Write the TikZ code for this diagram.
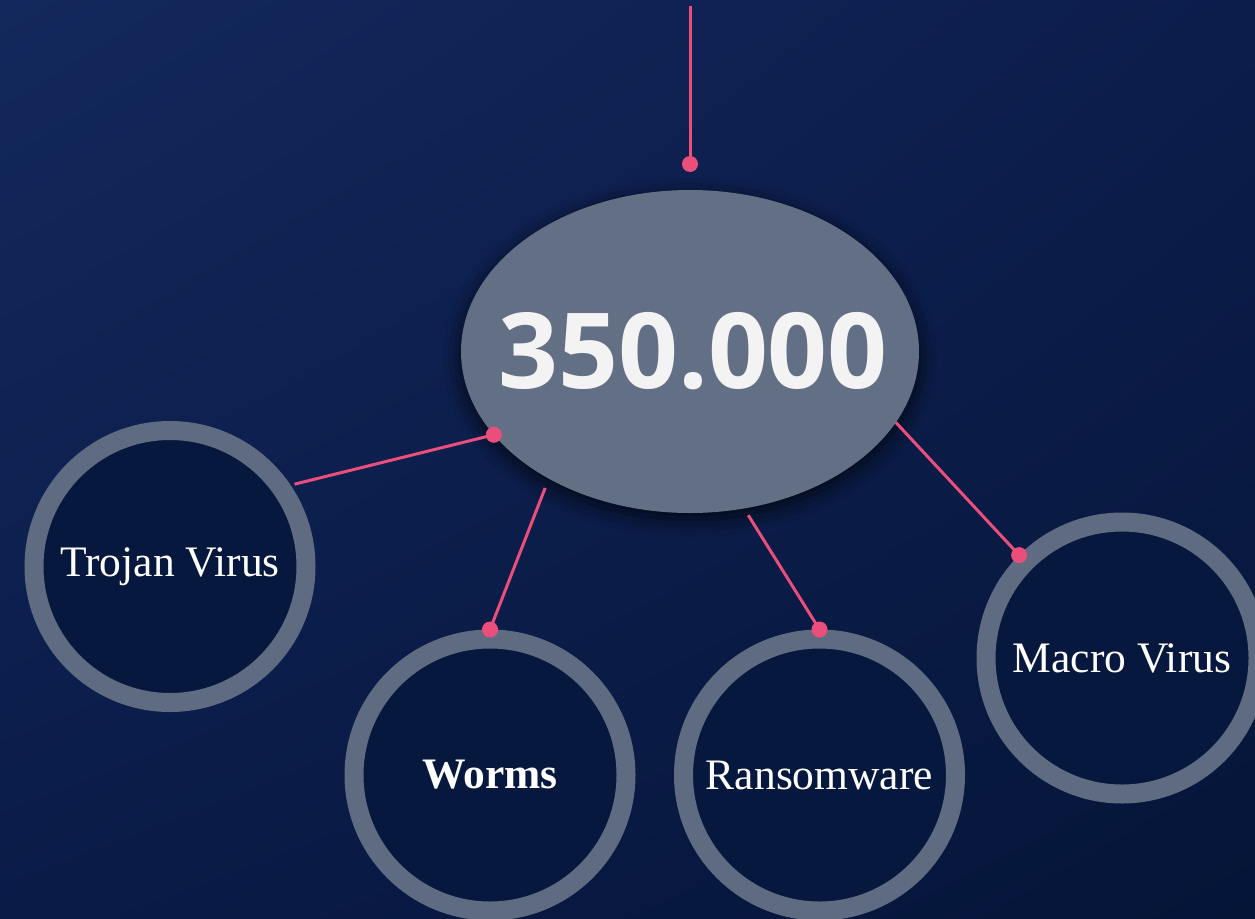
\documentclass[tikz,border=0pt]{standalone}
\usepackage{fontspec}
\setmainfont{Liberation Serif}
\newfontfamily\numfont{Open Sans}
\usepackage{tikz}
\usetikzlibrary{positioning, shapes.geometric, shadows.blur, shadings}
\definecolor{bgul}{HTML}{13285C}
\definecolor{bgur}{HTML}{0C1D4C}
\definecolor{bgll}{HTML}{0A1B48}
\definecolor{bglr}{HTML}{051538}
\definecolor{hot}{HTML}{EA4E7A}
\definecolor{ringgray}{HTML}{5F6B81}
\definecolor{coregray}{HTML}{636F84}
\definecolor{deepnavy}{HTML}{06183E}
\definecolor{paper}{HTML}{F3F3F3}
\tikzset{
  wire/.style={draw=hot, line width=3pt},
  hub/.style={ellipse, fill=coregray, minimum width=458pt, minimum height=323pt, inner sep=0pt, outer sep=0pt,
    blur shadow={shadow xshift=0pt, shadow yshift=-6pt, shadow blur radius=18pt, shadow opacity=75}},
  ring/.style={circle, draw=ringgray, line width=19pt, fill=deepnavy, minimum size=272pt, inner sep=0pt,
    on grid, text=white, font=\fontsize{43.5}{48}\selectfont}
}

\begin{document}
\begin{tikzpicture}[x=1pt, y=-1pt]
  \shade [upper left=bgul, upper right=bgur, lower left=bgll, lower right=bglr] (0,0) rectangle (1255,918);
  \useasboundingbox (0,0) rectangle (1255,918);
  \node [hub] (c) at (690,351.5) {};
  \node [text=paper, font=\numfont\bfseries\fontsize{105}{110}\selectfont, xshift=3pt] (num) at (c) {350.000};
  \node [ring, below left = 215pt and 520pt of c] (trojan) {Trojan Virus};
  \node [ring, below left = 423.5pt and 200pt of c] (worms) {\bfseries Worms};
  \node [ring, below right = 423.5pt and 129.5pt of c] (ransom) {Ransomware};
  \node [ring, below right = 306.5pt and 432pt of c] (macro) {Macro Virus};
  \coordinate [above = 26pt of c.north] (p0);
  \coordinate [above = 184pt of c.north] (top);
  \draw [wire] (top) -- (p0);
  \draw [wire, shorten >=4pt] (c.203) -- (trojan.34);
  \draw [wire, shorten <=10pt] (c.222) -- (worms.north);
  \draw [wire, shorten <=8pt] (c.289) -- (ransom.north);
  \draw [wire] (c.341) -- (macro.135);
%  \draw [wire] (c.south) -- (ransom.north);
  \foreach \p in {p0, c.203, worms.north, ransom.north, macro.135}
    \fill [hot] (\p) circle (8pt);
\end{tikzpicture}
\end{document}
